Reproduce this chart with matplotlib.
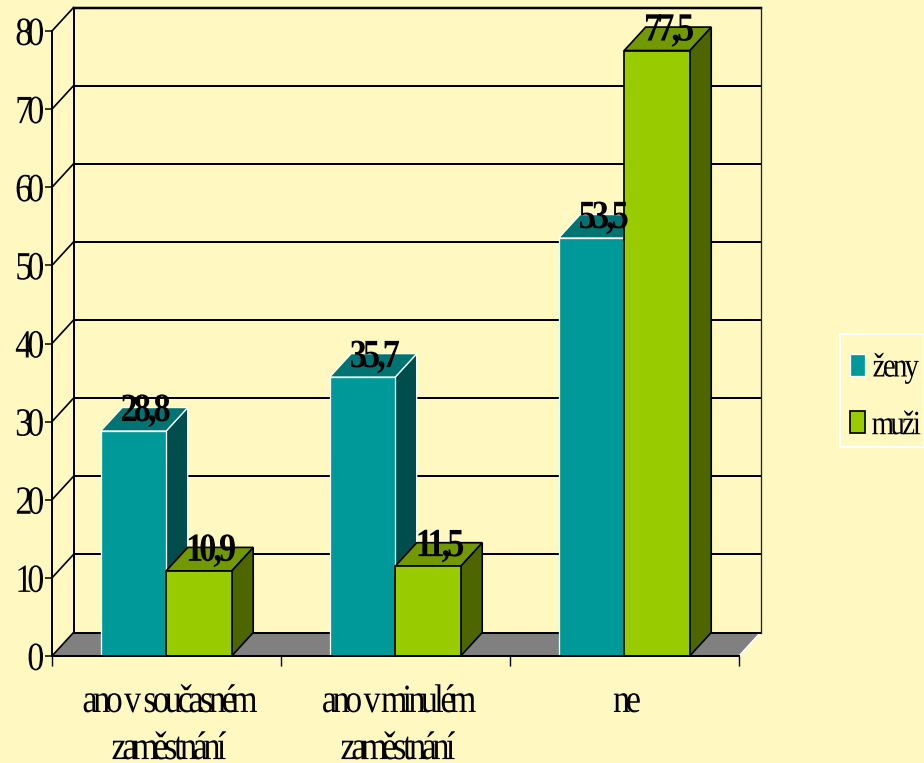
import matplotlib
matplotlib.use("Agg")
import matplotlib.pyplot as plt
import numpy as np
from matplotlib.patches import Patch, Rectangle
from matplotlib.path import Path
from matplotlib.patheffects import AbstractPathEffect

categories = ["ano v současném\nzaměstnání", "ano v minulém\nzaměstnání", "ne"]
series_names = ["ženy", "muži"]
zeny = [28.8, 35.7, 53.5]
muzi = [10.9, 11.5, 77.5]
zeny_labels = ["28,8", "35,7", "53,5"]
muzi_labels = ["10,9", "11,5", "77,5"]
y_ticks = [0, 10, 20, 30, 40, 50, 60, 70, 80]

W, H = 924, 763
BG = "#FFF8C0"
TEAL = ("#009999", "#007373", "#004D4D")
GREEN = ("#99CC00", "#739900", "#4D6600")
GREY = "#808080"
BAR_W = 65.5 / 229
SPLIT = -0.3 / 229
DX = 21.5 / 229
DY = 3.0
PX = 72 / 100


class Tight(AbstractPathEffect):
    """Tighten letter spacing (sx) and narrow each glyph (gx), as in the reference."""
    def __init__(self, sx, gx, anchor="center"):
        super().__init__()
        self.sx, self.gx, self.anchor = sx, gx, anchor

    def draw_path(self, renderer, gc, tpath, affine, rgbFace=None):
        v = np.array(tpath.vertices, dtype=float)
        codes = tpath.codes
        starts = list(np.nonzero(codes == Path.MOVETO)[0]) + [len(v)]
        parts = []
        for a, b in zip(starts[:-1], starts[1:]):
            xs = v[a:b, 0]
            parts.append([xs.min(), xs.max(), a, b])
        parts.sort(key=lambda p: p[0])
        glyphs = []
        for p in parts:
            c = (p[0] + p[1]) / 2
            if glyphs:
                g = glyphs[-1]
                gc_ = (g[0] + g[1]) / 2
                if g[0] <= c <= g[1] or p[0] <= gc_ <= p[1]:
                    g[1] = max(g[1], p[1])
                    g[2].append((p[2], p[3]))
                    continue
            glyphs.append([p[0], p[1], [(p[2], p[3])]])
        x0, x1 = v[:, 0].min(), v[:, 0].max()
        anc = {"center": (x0 + x1) / 2, "left": x0, "right": x1}[self.anchor]
        out = v.copy()
        for g in glyphs:
            c = (g[0] + g[1]) / 2
            nc = anc + (c - anc) * self.sx
            for a, b in g[2]:
                out[a:b, 0] = nc + (v[a:b, 0] - c) * self.gx
        renderer.draw_path(gc, Path(out, codes), affine, rgbFace)


plt.rcParams["font.family"] = ["Liberation Serif", "DejaVu Sans"]
fig = plt.figure(figsize=(W / 100, H / 100), dpi=100, facecolor=BG)
ax = fig.add_axes([52 / W, 1 - 656 / H, (739 - 52) / W, (656 - 31) / H])
ax.set_facecolor("none")
ax.set_xlim(-0.5, 2.5)
ax.set_ylim(0, 80)

xl, xr = -0.5, 2.5
kw = dict(clip_on=False, solid_capstyle="projecting")
ax.fill([xl, xr, xr + DX, xl + DX], [0, 0, DY, DY], color=GREY, lw=0, clip_on=False, zorder=1)
ax.plot([xr, xr + DX], [0, DY], color="white", lw=1.1, clip_on=False, zorder=1.5)
for v in y_ticks:
    lw = 2.5 * PX if v == 80 else 2.0 * PX
    ax.plot([xl + DX, xr + DX], [v + DY, v + DY], color="black", lw=lw, zorder=2, **kw)
    ax.plot([xl, xl + DX], [v, v + DY], color="black", lw=1.7 * PX, zorder=2, clip_on=False)
ax.plot([xl + DX, xl + DX], [DY, 80 + DY], color="black", lw=2 * PX, zorder=2, **kw)
ax.plot([xr + DX, xr + DX], [DY, 80 + DY], color="#222222", lw=1.3 * PX, zorder=2, **kw)

for i in range(len(categories)):
    for j, (vals, cols, edge, elw) in enumerate(
        [(zeny, TEAL, "white", 1.3), (muzi, GREEN, "black", 1.7)]
    ):
        v = vals[i]
        x0 = i + SPLIT - BAR_W if j == 0 else i + SPLIT
        x1 = x0 + BAR_W
        z = 3 + i + j * 0.5
        ax.fill([x1, x1 + DX, x1 + DX, x1], [0, DY, v + DY, v], facecolor=cols[2],
                edgecolor=edge, lw=elw * PX, clip_on=False, zorder=z)
        ax.fill([x0, x1, x1 + DX, x0 + DX], [v, v, v + DY, v + DY], facecolor=cols[1],
                edgecolor=edge, lw=elw * PX, clip_on=False, zorder=z)
        ax.bar(x0, v, BAR_W, align="edge", color=cols[0], edgecolor=edge,
               linewidth=elw * PX, clip_on=False, zorder=z + 0.1)

for i in range(len(categories)):
    for j, (vals, labs) in enumerate([(zeny, zeny_labels), (muzi, muzi_labels)]):
        cx = i - BAR_W / 2 if j == 0 else i + BAR_W / 2
        ax.annotate(labs[i], (cx, vals[i]), xytext=(12 * PX, 10 * PX),
                    textcoords="offset points", ha="center", va="baseline",
                    fontsize=40 * PX, fontweight="bold", color="black", zorder=20,
                    annotation_clip=False, path_effects=[Tight(0.66, 0.86)])

for s in ("top", "right"):
    ax.spines[s].set_visible(False)
ax.spines["left"].set_linewidth(2 * PX)
ax.spines["bottom"].set_linewidth(2 * PX)
ax.spines["bottom"].set_zorder(15)
ax.set_yticks(y_ticks)
ax.set_yticklabels([str(v) for v in y_ticks], fontsize=40 * PX)
ax.tick_params(axis="y", length=7 * PX, width=1.5 * PX, pad=2)
for t in ax.get_yticklabels():
    t.set_path_effects([Tight(0.6, 0.85, "right")])
ax.set_xticks([-0.5, 0.5, 1.5, 2.5])
ax.set_xticklabels([])
ax.tick_params(axis="x", which="major", length=10 * PX, width=1.4 * PX)
ax.set_xticks([0.012, 1.012, 2.012], minor=True)
ax.set_xticklabels(categories, minor=True, fontsize=40 * PX, linespacing=1.36)
ax.tick_params(axis="x", which="minor", length=0, pad=28 * PX)
for t in ax.get_xticklabels(minor=True):
    t.set_path_effects([Tight(0.62, 0.85)])

fig.add_artist(Rectangle((839.5 / W, 1 - 446.5 / H), 84 / W, 112.5 / H, transform=fig.transFigure,
                         facecolor="none", edgecolor="white", lw=2 * PX))
handles = [Patch(facecolor=TEAL[0], edgecolor="white", lw=1.3 * PX),
           Patch(facecolor=GREEN[0], edgecolor="black", lw=1.7 * PX)]
leg = fig.legend(handles, series_names, loc="upper left",
                 bbox_to_anchor=(850 / W, 1 - 353 / H), bbox_transform=fig.transFigure,
                 frameon=False, fontsize=34 * PX, borderpad=0, borderaxespad=0,
                 handlelength=0.44, handleheight=0.62, handletextpad=0.26, labelspacing=0.8)
for t in leg.get_texts():
    t.set_path_effects([Tight(0.68, 0.85, "left")])

fig.savefig("out.png", dpi=100, facecolor=BG)
